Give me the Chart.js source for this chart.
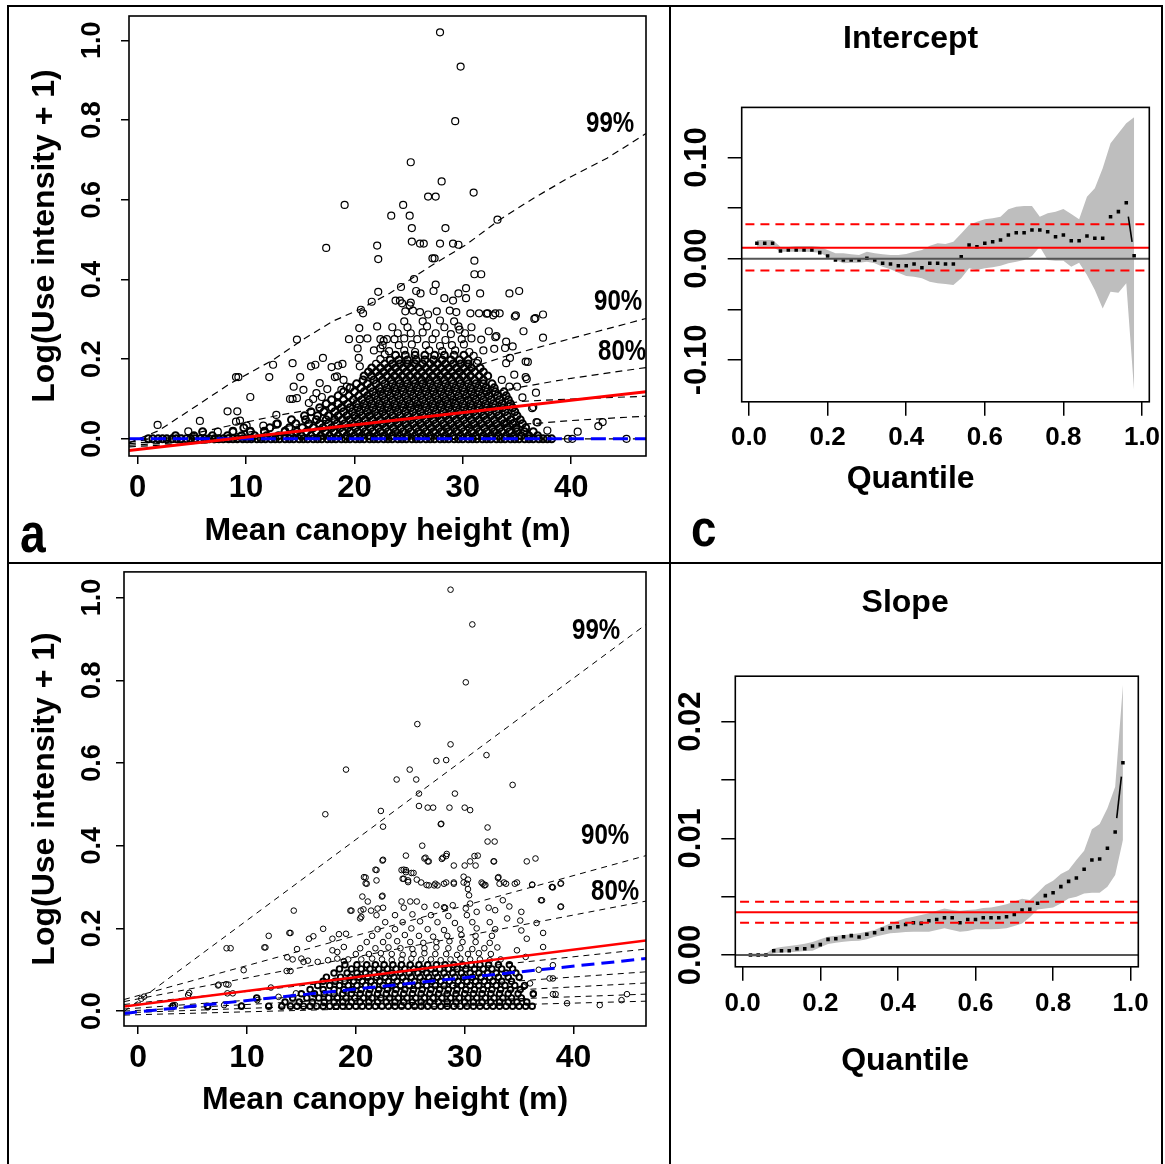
<!DOCTYPE html>
<html><head><meta charset="utf-8">
<script src="https://cdn.jsdelivr.net/npm/chart.js@4.4.1/dist/chart.umd.min.js"></script>
<style>
html,body{margin:0;padding:0;background:#fff;}
#root{position:relative;width:1165px;height:1164px;overflow:hidden;background:#fff;}
canvas{position:absolute;}
.ln{position:absolute;background:#000;}
.lbl{position:absolute;font-weight:bold;color:#000;white-space:nowrap;line-height:1;font-family:"Liberation Sans",Arial,sans-serif;transform-origin:left top;}
</style></head><body><div id="root">
<canvas id="cA" width="658" height="554" style="left:10px;top:8px;"></canvas>
<canvas id="cC" width="488" height="554" style="left:672px;top:8px;"></canvas>
<canvas id="cB" width="658" height="598" style="left:10px;top:566px;"></canvas>
<canvas id="cD" width="488" height="598" style="left:672px;top:566px;"></canvas>
<div class="ln" style="left:7px;top:5px;width:1156px;height:2px;"></div>
<div class="ln" style="left:7px;top:5px;width:2px;height:1159px;"></div>
<div class="ln" style="left:1161px;top:5px;width:2px;height:1159px;"></div>
<div class="ln" style="left:669px;top:5px;width:2px;height:1159px;"></div>
<div class="ln" style="left:7px;top:562px;width:1156px;height:2px;"></div>
<div class="lbl" style="left:586px;top:108px;font-size:29px;transform:scaleX(0.83);">99%</div>
<div class="lbl" style="left:594px;top:286px;font-size:29px;transform:scaleX(0.83);">90%</div>
<div class="lbl" style="left:598px;top:336px;font-size:29px;transform:scaleX(0.83);">80%</div>
<div class="lbl" style="left:572px;top:615px;font-size:29px;transform:scaleX(0.83);">99%</div>
<div class="lbl" style="left:581px;top:820px;font-size:29px;transform:scaleX(0.83);">90%</div>
<div class="lbl" style="left:591px;top:876px;font-size:29px;transform:scaleX(0.83);">80%</div>
<div class="lbl" style="left:20px;top:506px;font-size:55px;transform:scaleX(0.84);">a</div>
<div class="lbl" style="left:691px;top:502px;font-size:52px;transform:scaleX(0.88);">c</div>
</div>
<script>
// ---------------- Panel a (top-left) ----------------
const aXTicks=[0,10,20,30,40], aXLabels=['0','10','20','30','40'];
const aYTicks=[0,0.2,0.4,0.6,0.8,1.0], aYLabels=['0.0','0.2','0.4','0.6','0.8','1.0'];
const aPts=[[27.9,1.02],[29.8,0.934],[29.3,0.797],[25.2,0.694],[28.05,0.646],[26.8,0.608],[27.5,0.608],[31.0,0.618],[19.1,0.587],[24.5,0.587],[23.4,0.56],[25.1,0.56],[33.2,0.55],[25.3,0.529],[28.4,0.529],[25.3,0.495],[26.05,0.49],[26.4,0.49],[27.9,0.49],[29.1,0.49],[29.6,0.487],[17.4,0.479],[22.1,0.485],[22.2,0.451],[27.2,0.453],[27.4,0.453],[31.07,0.447],[31.07,0.413],[31.7,0.413],[25.5,0.401],[24.3,0.381],[27.5,0.387],[30.3,0.378],[22.2,0.369],[25.7,0.371],[26.1,0.365],[27.3,0.371],[34.3,0.365],[35.2,0.371],[31.6,0.365],[21.6,0.344],[23.8,0.347],[24.2,0.347],[25.2,0.342],[28.3,0.353],[29.1,0.347],[29.6,0.365],[20.6,0.324],[20.8,0.315],[30.7,0.315],[31.5,0.315],[32.3,0.315],[33.0,0.315],[33.4,0.315],[34.9,0.31],[36.6,0.301],[37.4,0.312],[14.7,0.249],[37.4,0.254],[35.6,0.27],[24.4,0.34],[25.1,0.335],[24.7,0.32],[25.4,0.322],[26.05,0.318],[26.8,0.312],[27.6,0.32],[28.8,0.322],[29.4,0.318],[30.3,0.353],[32.2,0.314],[32.8,0.31],[34.8,0.307],[36.7,0.303],[29.6,0.282],[29.7,0.274],[32.4,0.27],[33.0,0.255],[33.1,0.258],[31.7,0.249],[20.45,0.278],[22.1,0.282],[19.5,0.25],[20.5,0.25],[21.2,0.252],[22.4,0.25],[22.7,0.246],[23.0,0.25],[20.3,0.227],[22.4,0.227],[34.0,0.244],[34.6,0.232],[33.9,0.228],[32.9,0.226],[35.8,0.194],[34.0,0.19],[34.35,0.203],[36.0,0.193],[17.1,0.203],[16.0,0.182],[16.4,0.186],[17.9,0.18],[18.5,0.184],[18.9,0.188],[20.4,0.203],[20.5,0.182],[12.5,0.186],[14.3,0.19],[9.08,0.155],[9.3,0.155],[12.15,0.155],[15.0,0.155],[35.8,0.155],[34.75,0.161],[35.9,0.15],[10.4,0.105],[14.06,0.1],[14.3,0.1],[14.7,0.102],[15.3,0.123],[16.2,0.1],[14.4,0.131],[8.3,0.069],[9.2,0.069],[5.75,0.045],[1.85,0.035],[12.8,0.06],[9.08,0.043],[9.45,0.046],[10.06,0.033],[11.6,0.033],[12.8,0.037],[4.68,0.019],[7.4,0.018],[8.8,0.02],[10.4,0.02],[11.7,0.02],[13.6,0.02],[34.3,0.131],[35.0,0.131],[36.75,0.116],[35.5,0.104],[33.6,0.148],[36.4,0.077],[36.5,0.08],[36.8,0.042],[36.9,0.041],[34.1,0.058],[34.05,0.039],[34.8,0.041],[34.97,0.023],[32.8,0.023],[37.8,0.021],[40.6,0.018],[42.5,0.032],[42.9,0.042],[45.1,0.0],[39.7,0.0],[40.1,0.0],[18.2,0.155],[18.4,0.157],[18.8,0.123],[19.3,0.131],[19.0,0.148],[16.8,0.14],[17.5,0.125],[16.5,0.115],[15.8,0.09],[17.0,0.105],
[22.0,0.188],[31.3,0.19],[22.4,0.2],[31.4,0.196],[22.8,0.212],[31.0,0.208],
[21.8,0.222],[23.2,0.22],[24.6,0.222],[25.6,0.218],[26.9,0.222],[28.1,0.22],[29.3,0.222],[30.6,0.218],[31.9,0.222],[22.6,0.235],[24.1,0.235],[25.3,0.237],[26.6,0.235],[27.9,0.233],[29.0,0.235],[30.1,0.237],[23.7,0.25],[24.6,0.252],[25.8,0.25],[27.2,0.25],[28.4,0.248],[29.9,0.25],[30.8,0.252],[24.0,0.265],[25.2,0.265],[26.3,0.267],[27.5,0.265],[28.9,0.263],[30.2,0.265],[23.5,0.28],[24.9,0.28],[26.7,0.282],[28.3,0.28],[30.8,0.28],[24.6,0.295],[26.3,0.295],[27.9,0.297],[29.2,0.295]];
const aRowY=[0.000,0.008,0.018,0.028,0.038,0.048,0.058,0.068,0.078,0.088,0.098,0.108,0.118,0.128,0.138,0.148,0.158,0.168,0.178,0.188,0.198,0.210];
const aRowX=[
[1.0,1.4,1.9,2.3,2.7,3.2,3.6,4.0,4.5,4.9,5.3,5.8,6.2,6.6,7.1,7.5,7.9,8.4,8.8,9.2,9.7,10.1,10.5,11.0,11.4,11.8,12.3,12.7,13.1,13.6,14.0,14.4,14.9,15.3,15.7,16.2,16.6,17.0,17.5,17.9,18.3,18.8,19.2,19.6,20.1,20.5,20.9,21.4,21.8,22.2,22.7,23.1,23.5,24.0,24.4,24.8,25.3,25.7,26.1,26.6,27.0,27.4,27.9,28.3,28.7,29.2,29.6,30.0,30.5,30.9,31.3,31.8,32.2,32.6,33.1,33.5,33.9,34.4,34.8,35.2,35.7,36.1,36.5,37.0,37.4,37.8,38.2],
[3.5,5.2,6.9,8.3,9.6,10.8,11.9,13.0,14.1,15.1,16.0,16.9,17.7,18.5,19.3,20.0,20.7,21.4,22.1,22.8,23.5,24.2,24.9,25.6,26.3,27.0,27.7,28.4,29.1,29.8,30.5,31.2,31.9,32.6,33.3,34.0,34.7,35.4,36.1,36.9],
[6.0,8.8,10.4,11.7,13.6,14.7,15.6,16.5,17.3,18.1,18.9,19.6,20.3,21.0,21.7,22.4,23.1,23.8,24.5,25.2,25.9,26.6,27.3,28.0,28.7,29.4,30.1,30.8,31.5,32.2,32.9,33.6,34.3,35.0,35.7,36.5],
[9.8,12.2,14.0,15.2,16.2,17.1,17.9,18.7,19.4,20.1,20.8,21.5,22.2,22.9,23.6,24.3,25.0,25.7,26.4,27.1,27.8,28.5,29.2,29.9,30.6,31.3,32.0,32.7,33.4,34.1,34.9,35.8],
[12.9,14.6,15.8,16.8,17.6,18.4,19.1,19.8,20.5,21.2,21.9,22.6,23.3,24.0,24.7,25.4,26.1,26.8,27.5,28.2,28.9,29.6,30.3,31.0,31.7,32.4,33.1,33.8,34.6,35.5],
[14.2,15.5,16.5,17.4,18.2,18.9,19.6,20.3,21.0,21.7,22.4,23.1,23.8,24.5,25.2,25.9,26.6,27.3,28.0,28.7,29.4,30.1,30.8,31.5,32.2,32.9,33.6,34.4,35.3],
[15.4,16.6,17.6,18.5,19.3,20.0,20.7,21.4,22.1,22.8,23.5,24.2,24.9,25.6,26.3,27.0,27.7,28.4,29.1,29.8,30.5,31.2,31.9,32.6,33.3,34.1,35.0],
[16.0,17.2,18.2,19.0,19.8,20.5,21.2,21.9,22.6,23.3,24.0,24.7,25.4,26.1,26.8,27.5,28.2,28.9,29.6,30.3,31.0,31.7,32.4,33.1,33.9,34.8],
[16.8,17.9,18.8,19.6,20.3,21.0,21.7,22.4,23.1,23.8,24.5,25.2,25.9,26.6,27.3,28.0,28.7,29.4,30.1,30.8,31.5,32.2,32.9,33.7,34.6],
[17.4,18.5,19.4,20.2,20.9,21.6,22.3,23.0,23.7,24.4,25.1,25.8,26.5,27.2,27.9,28.6,29.3,30.0,30.7,31.4,32.1,32.8,33.6,34.4],
[17.9,19.0,19.9,20.7,21.4,22.1,22.8,23.5,24.2,24.9,25.6,26.3,27.0,27.7,28.4,29.1,29.8,30.5,31.2,31.9,32.6,33.4,34.2],
[18.5,19.5,20.4,21.2,21.9,22.6,23.3,24.0,24.7,25.4,26.1,26.8,27.5,28.2,28.9,29.6,30.3,31.0,31.7,32.4,33.2,34.0],
[19.0,20.0,20.9,21.7,22.4,23.1,23.8,24.5,25.2,25.9,26.6,27.3,28.0,28.7,29.4,30.1,30.8,31.5,32.2,33.0,33.8],
[19.6,20.6,21.5,22.3,23.0,23.7,24.4,25.1,25.8,26.5,27.2,27.9,28.6,29.3,30.0,30.7,31.4,32.1,32.9],
[20.2,21.2,22.0,22.8,23.5,24.2,24.9,25.6,26.3,27.0,27.7,28.4,29.1,29.8,30.5,31.2,31.9,32.7],
[20.8,21.8,22.6,23.4,24.1,24.8,25.5,26.2,26.9,27.6,28.3,29.0,29.7,30.4,31.1,31.9],
[20.9,21.6,22.3,23.0,23.7,24.4,25.1,25.8,26.5,27.2,27.9,28.6,29.3,30.0,30.7,31.5,32.3],
[21.3,22.0,22.7,23.4,24.1,24.8,25.5,26.2,26.9,27.6,28.3,29.0,29.7,30.4,31.1,31.9],
[21.6,22.4,23.1,23.8,24.5,25.2,25.9,26.6,27.3,28.0,28.7,29.4,30.1,30.8,31.6],
[22.8,23.5,24.2,24.9,25.6,26.3,27.0,27.7,28.4,29.1,29.8,30.5],
[23.3,24.1,24.9,25.7,26.5,27.3,28.1,28.9,29.7,30.5],
[23.8,24.7,25.6,26.5,27.4,28.3,29.2,30.1]];
const aOls=[[-0.8,-0.029],[46.9,0.118]];
const aMed=[[-0.8,0.0],[46.9,0.0]];
const aQ99=[[-0.8,-0.01],[1.9,0.02],[5.0,0.075],[8.5,0.138],[12.5,0.198],[15.3,0.25],[18.0,0.295],[20.5,0.325],[23.3,0.366],[26.7,0.428],[30.3,0.487],[33.4,0.55],[36.6,0.605],[39.7,0.654],[43.3,0.704],[46.9,0.766]];
const aQ90=[[-0.8,-0.008],[5,0.012],[8.8,0.035],[12.8,0.058],[15.9,0.073],[20,0.1],[25,0.135],[30,0.172],[33.8,0.206],[40,0.252],[46.9,0.302]];
const aQ80=[[-0.8,-0.012],[8,0.008],[15.9,0.04],[20,0.058],[25,0.08],[30,0.102],[34.3,0.125],[40,0.152],[46.9,0.179]];
const aQ70=[[-0.8,-0.016],[10,0.0],[20,0.03],[30,0.065],[35.3,0.094],[40,0.1],[46.9,0.107]];
const aQ60=[[-0.8,-0.02],[10,-0.005],[20,0.01],[30,0.028],[36.8,0.039],[40,0.046],[46.9,0.057]];

// ---------------- Panel b (bottom-left) ----------------
const bXTicks=[0,10,20,30,40], bXLabels=['0','10','20','30','40'];
const bYTicks=[0,0.2,0.4,0.6,0.8,1.0], bYLabels=['0.0','0.2','0.4','0.6','0.8','1.0'];
const bPts=[[28.7,1.019],[30.7,0.935],[30.1,0.795],[25.65,0.694],[28.7,0.645],[27.4,0.605],[28.3,0.607],[32.0,0.619],[19.1,0.584],[24.95,0.584],[23.75,0.56],[25.55,0.56],[34.4,0.547],[25.8,0.526],[29.1,0.526],[25.8,0.496],[26.6,0.492],[27.1,0.492],[28.6,0.492],[30.0,0.492],[30.5,0.486],[17.2,0.476],[22.3,0.484],[22.5,0.446],[27.8,0.452],[27.85,0.453],[32.1,0.444],[32.1,0.41],[32.75,0.41],[26.1,0.4],[35.7,0.362],[36.5,0.369],[32.65,0.362],[30.9,0.375],[30.5,0.362],[28.3,0.375],[27.9,0.368],[26.3,0.369],[26.6,0.362],[22.45,0.364],[21.9,0.341],[20.9,0.323],[20.9,0.309],[24.2,0.341],[24.6,0.341],[25.1,0.334],[24.4,0.32],[24.8,0.316],[25.6,0.318],[26.0,0.311],[26.7,0.304],[27.2,0.304],[27.5,0.304],[28.3,0.311],[29.0,0.311],[29.9,0.325],[30.3,0.318],[29.9,0.311],[30.3,0.295],[31.55,0.311],[31.8,0.304],[33.05,0.322],[33.6,0.311],[34.8,0.311],[36.2,0.306],[38.1,0.299],[38.85,0.309],[37.1,0.268],[38.85,0.253],[14.3,0.243],[19.5,0.243],[20.7,0.246],[21.1,0.265],[22.45,0.279],[21.9,0.316],[20.5,0.228],[24.2,0.265],[25.0,0.265],[25.6,0.265],[27.4,0.256],[28.1,0.251],[28.9,0.256],[8.13,0.152],[8.5,0.152],[11.7,0.154],[12.0,0.182],[14.0,0.189],[15.0,0.127],[15.6,0.122],[9.7,0.099],[4.6,0.039],[7.35,0.062],[8.1,0.065],[0.3,0.03],[3.2,0.0135],[6.4,0.009],[9.5,0.0135],[0.55,0.035],[3.4,0.0145],[4.7,0.044],[7.9,0.0145],[7.4,0.064],[8.3,0.064],[8.2,0.043],[8.7,0.043],[11.6,0.154],[14.6,0.15],[13.9,0.189],[12.2,0.057],[10.95,0.0265],[12.9,0.0345],[14.5,0.043],[13.7,0.13],[14.2,0.125],[15.2,0.119],[13.65,0.097],[14.0,0.097],[15.7,0.175],[16.1,0.181],[17.0,0.199],[17.85,0.175],[18.45,0.186],[19.1,0.187],[19.6,0.243],[20.45,0.243],[21.4,0.243],[22.0,0.248],[20.6,0.277],[22.4,0.277],[20.4,0.224],[20.75,0.324],[21.0,0.308],[21.8,0.342],[22.5,0.366],[18.9,0.155],[18.3,0.143],[17.85,0.147],[16.5,0.119],[17.45,0.123],[18.3,0.127],[18.9,0.121],[24.6,0.376],[26.4,0.371],[26.7,0.362],[28.0,0.371],[28.35,0.38],[29.0,0.352],[30.0,0.352],[31.2,0.376],[31.0,0.352],[32.7,0.362],[24.4,0.342],[24.6,0.336],[24.3,0.32],[24.8,0.312],[25.3,0.334],[26.5,0.305],[27.3,0.308],[28.1,0.308],[29.0,0.308],[30.2,0.308],[31.65,0.308],[31.9,0.305],[33.1,0.324],[33.2,0.308],[33.8,0.308],[34.6,0.308],[36.2,0.305],[38.0,0.30],[38.8,0.308],[30.4,0.28],[30.5,0.26],[31.1,0.24],[32.8,0.244],[33.5,0.268],[33.9,0.224],[34.1,0.253],[35.2,0.24],[35.1,0.219],[35.2,0.195],[36.6,0.213],[35.7,0.175],[34.8,0.147],[35.6,0.131],[36.8,0.1],[35.4,0.059],[36.3,0.04],[36.0,0.067],[38.05,0.3],[37.0,0.268],[38.8,0.252],[37.2,0.189],[37.2,0.155],[38.1,0.111],[37.8,0.079],[38.1,0.079],[38.1,0.041],[38.35,0.041],[39.4,0.019],[42.4,0.0145],[44.4,0.0265],[44.9,0.041],
[19.3,0.125],[20.5,0.125],[21.5,0.127],[22.4,0.125],[23.3,0.123],[24.2,0.125],[25.1,0.127],[26.0,0.125],[26.9,0.125],[27.8,0.123],[28.7,0.125],[29.6,0.127],[30.5,0.125],[31.4,0.125],[32.3,0.123],[33.3,0.125],[20.0,0.138],[21.2,0.138],[22.3,0.14],[23.3,0.138],[24.3,0.136],[25.3,0.138],[26.3,0.14],[27.3,0.138],[28.3,0.138],[29.3,0.136],[30.3,0.138],[31.3,0.14],[32.4,0.138],[20.4,0.152],[21.8,0.152],[23.0,0.154],[24.1,0.152],[25.2,0.15],[26.3,0.152],[27.4,0.154],[28.5,0.152],[29.6,0.152],[30.7,0.15],[31.8,0.152],[33.0,0.154],[21.0,0.167],[22.5,0.167],[23.8,0.169],[25.0,0.167],[26.2,0.165],[27.4,0.167],[28.6,0.169],[29.8,0.167],[31.0,0.167],[32.3,0.165],[21.5,0.182],[23.0,0.182],[24.5,0.184],[25.8,0.182],[27.1,0.18],[28.4,0.182],[29.7,0.184],[31.0,0.182],[32.5,0.182],[22.0,0.198],[23.6,0.198],[25.1,0.2],[26.6,0.198],[28.1,0.196],[29.6,0.198],[31.1,0.2],[32.8,0.198],[22.7,0.215],[24.3,0.215],[25.9,0.217],[27.5,0.215],[29.1,0.213],[30.7,0.215],[32.3,0.215],[21.9,0.232],[23.6,0.232],[25.2,0.234],[26.9,0.232],[28.5,0.23],[30.2,0.232],[22.5,0.25],[24.4,0.25],[26.3,0.252],[28.2,0.25],[30.1,0.248],[32.2,0.25]];
const bRowY=[0.012,0.022,0.032,0.042,0.052,0.062,0.072,0.082,0.092,0.102,0.112];
const bRowX=[
[3.2,6.4,9.5,12.0,13.2,14.0,14.6,15.2,15.8,16.4,17.0,17.6,18.2,18.8,19.4,20.0,20.6,21.2,21.8,22.4,23.0,23.6,24.2,24.8,25.4,26.0,26.6,27.2,27.8,28.4,29.0,29.6,30.2,30.8,31.4,32.0,32.6,33.2,33.8,34.4,35.0,35.6,36.2],
[13.5,14.8,16.0,17.1,18.0,18.8,19.6,20.4,21.2,22.0,22.8,23.6,24.4,25.2,26.0,26.8,27.6,28.4,29.2,30.0,30.8,31.6,32.4,33.2,34.0,34.8,35.7],
[10.9,14.2,15.5,16.6,17.5,18.3,19.1,19.9,20.7,21.5,22.3,23.1,23.9,24.7,25.5,26.3,27.1,27.9,28.7,29.5,30.3,31.1,31.9,32.7,33.5,34.3,35.2],
[15.0,16.2,17.1,18.0,18.8,19.6,20.4,21.2,22.0,22.8,23.6,24.4,25.2,26.0,26.8,27.6,28.4,29.2,30.0,30.8,31.6,32.4,33.2,34.0,34.9,36.3],
[15.8,17.0,18.0,18.9,19.7,20.5,21.3,22.1,22.9,23.7,24.5,25.3,26.1,26.9,27.7,28.5,29.3,30.1,30.9,31.7,32.5,33.3,34.2,35.1],
[16.5,17.6,18.5,19.3,20.1,20.9,21.7,22.5,23.3,24.1,24.9,25.7,26.5,27.3,28.1,28.9,29.7,30.5,31.3,32.1,32.9,33.7,34.6,35.5],
[17.0,18.1,19.0,19.8,20.6,21.4,22.2,23.0,23.8,24.6,25.4,26.2,27.0,27.8,28.6,29.4,30.2,31.0,31.8,32.6,33.4,34.3],
[17.3,18.6,19.5,20.3,21.1,21.9,22.7,23.5,24.3,25.1,25.9,26.7,27.5,28.3,29.1,29.9,30.7,31.5,32.3,33.1,34.0,35.0],
[18.0,19.2,20.1,20.9,21.7,22.5,23.3,24.1,24.9,25.7,26.5,27.3,28.1,28.9,29.7,30.5,31.3,32.1,32.9,33.8,34.7],
[18.5,19.6,20.5,21.3,22.1,22.9,23.7,24.5,25.3,26.1,26.9,27.7,28.5,29.3,30.1,30.9,31.7,32.5,33.4,34.4],
[19.0,20.1,21.0,21.8,22.6,23.4,24.2,25.0,25.8,26.6,27.4,28.2,29.0,29.8,30.6,31.4,32.2,33.1,34.1]];
const bOls=[[-1.29,0.011],[46.65,0.171]];
const bMed=[[-1.29,-0.0056],[46.65,0.127]];
const bQ99=[[-1.29,-0.001],[46.65,0.935]];
const bQ90=[[-1.29,0.028],[46.65,0.376]];
const bQ80=[[-1.29,0.023],[46.65,0.266]];
const bQ70=[[-1.29,0.016],[46.65,0.150]];
const bQ60=[[-1.29,0.005],[46.65,0.095]];
const bQ40=[[-1.29,0.0],[46.65,0.068]];
const bQ30=[[-1.29,-0.004],[46.65,0.041]];
const bQ20=[[-1.29,-0.0096],[46.65,0.024]];

// ---------------- Panels c and d (coefficient plots) ----------------
const taus=[0.02,0.04,0.06,0.08,0.10,0.12,0.14,0.16,0.18,0.20,0.22,0.24,0.26,0.28,0.30,0.32,0.34,0.36,0.38,0.40,0.42,0.44,0.46,0.48,0.50,0.52,0.54,0.56,0.58,0.60,0.62,0.64,0.66,0.68,0.70,0.72,0.74,0.76,0.78,0.80,0.82,0.84,0.86,0.88,0.90,0.92,0.94,0.96,0.98];
const qTicks=[0,0.2,0.4,0.6,0.8,1.0], qLabels=['0.0','0.2','0.4','0.6','0.8','1.0'];
const cEst=[0.0152,0.0152,0.0152,0.0076,0.0086,0.0086,0.0086,0.0086,0.006,0.0027,-0.0013,-0.0013,-0.0013,-0.0013,0.0004,-0.0013,-0.0046,-0.0052,-0.0069,-0.0069,-0.0052,-0.0089,-0.0046,-0.0046,-0.0052,-0.0052,0.002,0.0135,0.0119,0.0152,0.0168,0.0185,0.0234,0.0257,0.0257,0.0284,0.0284,0.0267,0.0217,0.0234,0.0178,0.0178,0.0224,0.0201,0.0201,0.0415,0.0465,0.0553,0.003];
const cHi=[0.0185,0.0185,0.0185,0.0119,0.0119,0.0125,0.0125,0.0125,0.0119,0.0086,0.0053,0.0053,0.0043,0.0036,0.0069,0.0053,0.0043,0.0036,0.0036,0.0046,0.0069,0.0086,0.0129,0.0152,0.0145,0.0168,0.025,0.0333,0.0366,0.0389,0.0399,0.0415,0.0488,0.0514,0.0521,0.0521,0.0415,0.0448,0.0465,0.0491,0.0442,0.0389,0.0613,0.0695,0.0893,0.114,0.124,0.1338,0.1397];
const cLo=[0.0119,0.0119,0.0119,0.0069,0.0069,0.0069,0.0069,0.0066,0.0059,0.002,-0.0013,-0.0046,-0.0039,-0.0039,-0.003,-0.0046,-0.0079,-0.0105,-0.0138,-0.0171,-0.0178,-0.0194,-0.0227,-0.0243,-0.025,-0.026,-0.0194,-0.0095,-0.0112,-0.0095,-0.0085,-0.0069,-0.0046,-0.003,-0.0013,0.0026,0.0119,-0.0013,-0.002,-0.002,-0.0079,-0.0039,-0.0161,-0.031,-0.0491,-0.0326,-0.0336,-0.0243,-0.131];
const cOls=[0.0108,0.0340,-0.0117];
const cYTicks=[-0.10,-0.05,0,0.05,0.10], cYLabels=['-0.10','','0.00','','0.10'];
const dEst=[0,0,0,0.00037,0.00037,0.00037,0.00054,0.00054,0.00077,0.00089,0.00134,0.0014,0.00157,0.00166,0.00154,0.00177,0.00191,0.0022,0.00234,0.00242,0.00262,0.00277,0.00271,0.00294,0.00305,0.0032,0.0032,0.00277,0.00305,0.00305,0.0032,0.0032,0.0032,0.00328,0.00348,0.00385,0.00391,0.00443,0.00509,0.00534,0.00586,0.00631,0.0066,0.00734,0.00814,0.00822,0.00914,0.01054,0.01648];
const dHi=[0.00014,0.00014,0.00014,0.00057,0.00069,0.00077,0.00086,0.00097,0.00111,0.00134,0.00157,0.00166,0.00171,0.00177,0.00186,0.002,0.00214,0.00243,0.00271,0.00294,0.00314,0.00328,0.00342,0.00357,0.0038,0.00399,0.00385,0.0038,0.00385,0.00391,0.00402,0.00408,0.00419,0.00434,0.00459,0.00482,0.00471,0.00534,0.00599,0.00637,0.00694,0.00728,0.00814,0.00894,0.01077,0.01123,0.01257,0.01442,0.02314];
const dLo=[-0.00014,-0.00014,-0.00014,0.00014,0.0002,0.00023,0.00029,0.00034,0.00037,0.00066,0.00094,0.00106,0.00114,0.0012,0.00123,0.00134,0.00157,0.00171,0.00186,0.00191,0.00197,0.002,0.002,0.002,0.00214,0.00229,0.00214,0.002,0.00206,0.0022,0.0022,0.0022,0.00223,0.00229,0.00249,0.00271,0.00323,0.00391,0.00399,0.00408,0.00442,0.00485,0.005,0.00528,0.00534,0.00534,0.00585,0.00685,0.00985];
const dOls=[0.00366,0.00457,0.00277];
const dYTicks=[0,0.005,0.01,0.015,0.02], dYLabels=['0.00','','0.01','','0.02'];

// ---------------- helpers ----------------
const SANS='"Liberation Sans",Arial,Helvetica,sans-serif';
const F=(size)=>({family:SANS,size:size,weight:'bold',lineHeight:1.2});
Chart.defaults.color='#000';
const toXY=a=>a.map(p=>({x:p[0],y:p[1]}));
function rowsToXY(ys,xs){const out=[];ys.forEach((y,i)=>xs[i].forEach(x=>out.push({x:x,y:y})));return out;}

const boxPlugin={id:'rbox',afterDraw(chart){const a=chart.chartArea,c=chart.ctx;c.save();c.strokeStyle='#000';c.lineWidth=1.6;c.strokeRect(a.left,a.top,a.right-a.left,a.bottom-a.top);c.restore();}};
const bLinePlugin={id:'bline',afterDatasetsDraw(chart){
  chart.data.datasets.forEach((ds,i)=>{
    if(!ds.bLine)return;
    const pts=chart.getDatasetMeta(i).data,c=chart.ctx,g=ds.bGap;
    c.save();c.strokeStyle='#000';c.lineWidth=1.6;
    for(let k=0;k<pts.length-1;k++){
      const p=pts[k],q=pts[k+1],dx=q.x-p.x,dy=q.y-p.y,d=Math.hypot(dx,dy);
      if(d>2*g){c.beginPath();c.moveTo(p.x+dx*g/d,p.y+dy*g/d);c.lineTo(q.x-dx*g/d,q.y-dy*g/d);c.stroke();}
    }
    c.restore();
  });
}};

function xScale(P){return {type:'linear',position:'bottom',min:P.xMin,max:P.xMax,
  afterBuildTicks:s=>{s.ticks=P.xTicks.map(v=>({value:v}));},
  afterFit:s=>{s.height=P.xH;s.paddingLeft=0;s.paddingRight=0;s.paddingTop=0;s.paddingBottom=0;},
  ticks:{autoSkip:false,maxRotation:0,minRotation:0,padding:P.xPad,font:P.xFont,color:'#000',callback:(v,i)=>P.xLabels[i]},
  grid:{drawOnChartArea:false,drawTicks:true,tickLength:P.tl,color:'#000',lineWidth:1.5},
  border:{display:false},
  title:{display:!!P.xTitle,text:P.xTitle||'',font:P.tFont,color:'#000',padding:{top:0,bottom:P.xTitlePad||0}}};}
function yScale(P){return {type:'linear',position:'left',min:P.yMin,max:P.yMax,
  afterBuildTicks:s=>{s.ticks=P.yTicks.map(v=>({value:v}));},
  afterFit:s=>{s.width=P.yW;s.paddingLeft=0;s.paddingRight=0;s.paddingTop=0;s.paddingBottom=0;},
  ticks:{autoSkip:false,minRotation:90,maxRotation:90,crossAlign:'center',padding:P.yPad,font:P.yFont,color:'#000',callback:(v,i)=>P.yLabels[i]},
  grid:{drawOnChartArea:false,drawTicks:true,tickLength:P.tl,color:'#000',lineWidth:1.5},
  border:{display:false},
  title:{display:!!P.yTitle,text:P.yTitle||'',font:P.tFont,color:'#000',padding:{top:P.yTitlePad||0,bottom:0}}};}

function scatterChart(id,P){
  const ds=[];
  P.lines.forEach(L=>ds.push({data:toXY(L.pts),borderColor:L.color,borderWidth:L.width,borderDash:L.dash||[],pointRadius:0,showLine:true,fill:false,order:L.order}));
  ds.push({data:P.pts,showLine:false,pointStyle:'circle',pointRadius:P.radius,pointBorderWidth:P.bw,pointBorderColor:'#000',pointBackgroundColor:'rgba(0,0,0,0)',order:20});
  ds.push({data:P.dense,showLine:false,pointStyle:'circle',pointRadius:P.radius,pointBorderWidth:P.denseBw,pointBorderColor:'#000',pointBackgroundColor:'rgba(0,0,0,0)',order:21});
  return new Chart(document.getElementById(id),{type:'line',data:{datasets:ds},
    options:{responsive:false,animation:false,devicePixelRatio:1,events:[],layout:{padding:P.pad},
      plugins:{legend:{display:false},tooltip:{enabled:false},title:{display:false}},
      scales:{x:xScale(P),y:yScale(P)}},plugins:[boxPlugin]});
}
function coefChart(id,P){
  const pts=a=>taus.map((t,i)=>({x:t,y:a[i]}));
  const h=y=>[{x:-0.2,y:y},{x:1.2,y:y}];
  const ds=[
    {data:h(P.ols[0]),borderColor:'#ff0000',borderWidth:2,pointRadius:0,order:0},
    {data:h(P.ols[1]),borderColor:'#ff0000',borderWidth:2,borderDash:[9,6],pointRadius:0,order:0},
    {data:h(P.ols[2]),borderColor:'#ff0000',borderWidth:2,borderDash:[9,6],pointRadius:0,order:0},
    {data:h(0),borderColor:'#555555',borderWidth:2,pointRadius:0,order:1},
    {data:pts(P.est),showLine:false,pointStyle:'rect',pointRadius:2.5,pointBackgroundColor:'#000',pointBorderColor:'#000',pointBorderWidth:0,bLine:true,bGap:14,order:2},
    {data:pts(P.lo),borderColor:'rgba(0,0,0,0)',borderWidth:1,pointRadius:0,fill:false,order:4},
    {data:pts(P.hi),borderColor:'rgba(0,0,0,0)',borderWidth:1,pointRadius:0,fill:'-1',backgroundColor:'#bebebe',order:3}
  ];
  return new Chart(document.getElementById(id),{type:'line',data:{datasets:ds},
    options:{responsive:false,animation:false,devicePixelRatio:1,events:[],layout:{padding:P.pad},
      plugins:{legend:{display:false},tooltip:{enabled:false},
        title:{display:true,text:P.title,font:F(32),color:'#000',padding:P.titlePad},
        subtitle:{display:true,position:'bottom',text:'Quantile',font:F(32),color:'#000',padding:{top:0,bottom:0}}},
      scales:{x:xScale(P),y:yScale(P)}},plugins:[boxPlugin,bLinePlugin]});
}

const blackDash=(pts,w,d)=>({pts:pts,color:'#000',width:w,dash:d,order:3});
scatterChart('cA',{xMin:-0.79,xMax:46.9,yMin:-0.043,yMax:1.061,xTicks:aXTicks,xLabels:aXLabels,yTicks:aYTicks,yLabels:aYLabels,
  pad:{left:0,top:8,right:22,bottom:0},yW:119,xH:106,tl:8,xPad:5.4,yPad:9.2,xFont:F(31),yFont:F(27),tFont:F(32),
  xTitle:'Mean canopy height (m)',yTitle:'Log(Use intensity + 1)',xTitlePad:11.3,yTitlePad:15.8,
  pts:toXY(aPts),dense:rowsToXY(aRowY,aRowX),radius:3.5,bw:1.2,denseBw:2.0,
  lines:[{pts:aOls,color:'#ff0000',width:3,dash:[],order:0},{pts:aMed,color:'#0000ff',width:3,dash:[15,7],order:1},
    blackDash(aQ99,1.2,[7,5]),blackDash(aQ90,1.2,[7,5]),blackDash(aQ80,1.2,[7,5]),blackDash(aQ70,1.2,[7,5]),blackDash(aQ60,1.2,[7,5]),blackDash(aMed,1.2,[7,5])]});
scatterChart('cB',{xMin:-1.29,xMax:46.65,yMin:-0.036,yMax:1.062,xTicks:bXTicks,xLabels:bXLabels,yTicks:bYTicks,yLabels:bYLabels,
  pad:{left:0,top:4.7,right:22,bottom:0},yW:114,xH:138,tl:8,xPad:4.5,yPad:4.2,xFont:F(32),yFont:F(27),tFont:F(32),
  xTitle:'Mean canopy height (m)',yTitle:'Log(Use intensity + 1)',xTitlePad:45,yTitlePad:15.8,
  pts:toXY(bPts),dense:rowsToXY(bRowY,bRowX),radius:2.8,bw:1.0,denseBw:1.9,
  lines:[{pts:bOls,color:'#ff0000',width:2.5,dash:[],order:0},{pts:bMed,color:'#0000ff',width:3,dash:[13,7],order:1},
    blackDash(bQ99,1,[6,5]),blackDash(bQ90,1,[6,5]),blackDash(bQ80,1,[6,5]),blackDash(bQ70,1,[6,5]),blackDash(bQ60,1,[6,5]),blackDash(bQ40,1,[6,5]),blackDash(bQ30,1,[6,5]),blackDash(bQ20,1,[6,5])]});
coefChart('cC',{title:'Intercept',titlePad:{top:12.4,bottom:48.6},xMin:-0.0186,xMax:1.0186,yMin:-0.1414,yMax:0.1495,
  xTicks:qTicks,xLabels:qLabels,yTicks:cYTicks,yLabels:cYLabels,pad:{left:0,top:0,right:10.7,bottom:63.8},yW:69.7,xH:58,tl:14,
  xPad:6.4,yPad:-5.3,xFont:F(26),yFont:F(31),tFont:F(32),est:cEst,hi:cHi,lo:cLo,ols:cOls});
coefChart('cD',{title:'Slope',titlePad:{top:17.8,bottom:54},xMin:-0.019,xMax:1.0196,yMin:-0.00101,yMax:0.02389,
  xTicks:qTicks,xLabels:qLabels,yTicks:dYTicks,yLabels:dYLabels,pad:{left:0,top:0,right:21.7,bottom:83.2},yW:63.3,xH:75.6,tl:14,
  xPad:7.6,yPad:-0.6,xFont:F(26),yFont:F(31),tFont:F(32),est:dEst,hi:dHi,lo:dLo,ols:dOls});
</script>
</body></html>
